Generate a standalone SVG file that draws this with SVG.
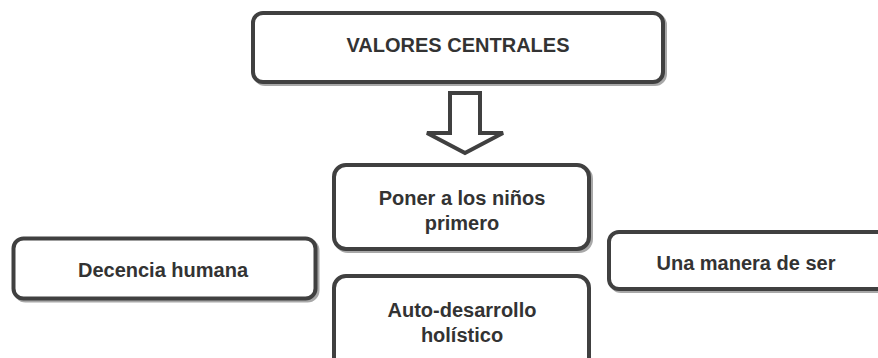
<svg xmlns="http://www.w3.org/2000/svg" width="878" height="358" viewBox="0 0 878 358">
<style>
.box{fill:#ffffff;stroke:#404040;stroke-width:4}
.sh{fill:none;stroke:#a8a8a8;stroke-width:4}
.t{font-family:"Liberation Sans",Arial,sans-serif;font-weight:bold;font-size:20px;fill:#333333;text-anchor:middle}
</style>
<rect width="878" height="358" fill="#ffffff"/>
<g id="valores-centrales">
<rect class="sh" x="255" y="15" width="410" height="69" rx="10"/>
<rect class="box" x="253" y="13" width="410" height="69" rx="10"/>
<text class="t" x="458" y="52">VALORES CENTRALES</text>
</g>
<g id="connectors">
<path d="M450,93 L480,93 L480,133 L503,133 L465,153 L427,133 L450,133 Z" fill="#ffffff" stroke="#404040" stroke-width="4" stroke-linejoin="miter"/>
</g>
<g id="poner-ninos">
<rect class="sh" x="336" y="167" width="255" height="84" rx="12"/>
<rect class="box" x="334" y="165" width="255" height="84" rx="12"/>
<text class="t" x="462" y="205">Poner a los niños</text>
<text class="t" x="462" y="230">primero</text>
</g>
<g id="auto-desarrollo">
<rect class="box" x="334" y="276" width="255" height="95" rx="12"/>
<text class="t" x="462" y="317">Auto-desarrollo</text>
<text class="t" x="462" y="342">holístico</text>
</g>
<g id="decencia-humana">
<rect class="sh" x="15.5" y="240.5" width="302" height="60" rx="10"/>
<rect class="box" x="13.5" y="238.5" width="302" height="60" rx="10"/>
<text class="t" x="163" y="277">Decencia humana</text>
</g>
<g id="una-manera">
<rect class="sh" x="611" y="234" width="290" height="57" rx="10"/>
<rect class="box" x="609" y="232" width="290" height="57" rx="10"/>
<text class="t" x="746" y="270">Una manera de ser</text>
</g>
</svg>
